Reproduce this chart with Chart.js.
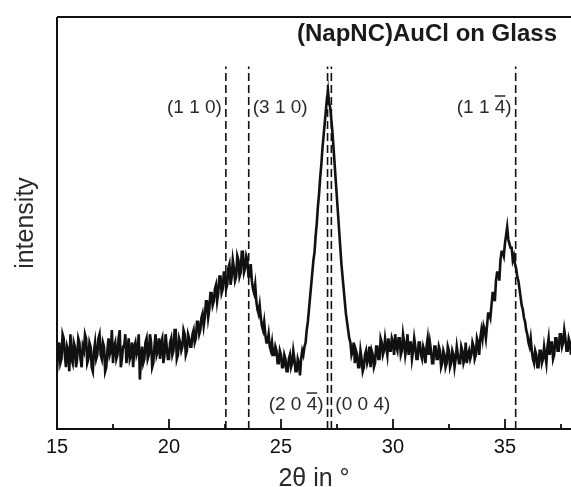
<!DOCTYPE html>
<html>
<head>
<meta charset="utf-8">
<script src="https://cdn.jsdelivr.net/npm/chart.js@4.4.1/dist/chart.umd.min.js"></script>
<style>
html, body { margin: 0; padding: 0; background: #fff; }
#wrap { width: 571px; height: 487px; position: relative; }
</style>
</head>
<body>
<div id="wrap"><canvas id="xrdCanvas"></canvas></div>
<script>
// scan grid: 15.00 .. 37.95 in steps of 0.05 degree (one row = one degree)
const twoThetaStart = 15.0;
const twoThetaStep = 0.05;
const intensity = [
    14, 19, 21, 16, 17, 23, 22, 18, 15, 20, 19, 14, 23, 17, 16, 21, 20, 15, 17, 22,
    21, 17, 15, 20, 19, 23, 22, 16, 17, 21, 20, 15, 14, 19, 21, 17, 18, 22, 23, 18,
    17, 21, 20, 14, 15, 19, 22, 18, 19, 24, 16, 20, 21, 17, 18, 22, 24, 15, 17, 20,
    20, 23, 16, 19, 22, 17, 18, 21, 15, 20, 21, 18, 19, 23, 12, 17, 20, 16, 17, 21,
    22, 17, 18, 23, 21, 15, 16, 20, 23, 18, 19, 22, 17, 21, 22, 16, 18, 23, 20, 17,
    17, 21, 22, 18, 19, 24, 24, 17, 18, 22, 21, 19, 20, 24, 23, 18, 19, 23, 22, 20,
    20, 23, 24, 21, 22, 26, 26, 23, 24, 27, 28, 25, 27, 31, 31, 27, 29, 33, 33, 30,
    31, 34, 35, 31, 33, 37, 37, 33, 34, 38, 38, 34, 35, 39, 40, 35, 37, 41, 39, 36,
    37, 42, 41, 37, 38, 43, 43, 38, 39, 42, 41, 37, 37, 40, 36, 34, 33, 35, 31, 29,
    28, 30, 27, 25, 24, 26, 23, 21, 21, 23, 20, 19, 21, 18, 18, 20, 19, 16, 16, 19,
    18, 15, 15, 18, 17, 14, 14, 17, 18, 15, 16, 19, 17, 14, 14, 17, 16, 13, 17, 19,
    18, 20, 21, 24, 26, 29, 32, 35, 38, 41, 43, 47, 50, 54, 57, 61, 64, 68, 71, 74,
    77, 80, 82, 79, 78, 75, 72, 68, 64, 60, 56, 52, 48, 44, 40, 37, 34, 31, 28, 26,
    24, 22, 21, 18, 19, 21, 16, 19, 18, 15, 15, 19, 17, 14, 15, 18, 19, 16, 17, 20,
    15, 19, 18, 15, 16, 20, 20, 17, 17, 22, 21, 18, 19, 22, 20, 18, 22, 19, 19, 22,
    21, 18, 23, 20, 19, 22, 22, 18, 19, 23, 21, 18, 20, 23, 18, 21, 21, 17, 19, 22,
    20, 17, 17, 21, 21, 18, 17, 20, 19, 16, 20, 22, 18, 21, 19, 16, 16, 20, 20, 17,
    17, 20, 19, 15, 16, 19, 18, 15, 16, 20, 19, 15, 16, 19, 18, 15, 17, 20, 18, 16,
    16, 20, 19, 16, 17, 21, 16, 18, 19, 17, 18, 21, 20, 17, 18, 22, 21, 18, 22, 24,
    22, 25, 24, 22, 25, 28, 28, 27, 30, 33, 33, 31, 36, 38, 38, 36, 41, 43, 43, 42,
    45, 47, 49, 46, 45, 44, 44, 41, 42, 40, 39, 37, 36, 34, 32, 30, 29, 27, 26, 24,
    23, 21, 20, 22, 19, 17, 16, 19, 18, 15, 15, 19, 19, 16, 17, 20, 18, 16, 20, 22,
    18, 21, 21, 17, 18, 22, 22, 19, 19, 23, 23, 20, 21, 24, 22, 19, 19, 22, 21, 18
];

// reflection positions (dashed lines) and their labels
const peakPositions = [22.54, 23.56, 27.08, 27.25, 35.48];
const peakLineTop = 88;
const peakLabels = ['(1 1 0)', '(3 1 0)', '(2 0 4)', '(0 0 4)', '(1 1 4)'];
const peakLabelSide = ['left', 'right', 'left', 'right', 'left'];
const peakLabelY = [76.7, 76.7, 4.6, 4.6, 76.7];
const peakLabelBar = [false, false, true, false, true];

const majorTicks = [15, 20, 25, 30, 35];
const minorTicks = [17.5, 22.5, 27.5, 32.5, 37.5];
const xMin = 15;
const xMax = 37.95;

const fontFamily = "'Liberation Sans', Arial, sans-serif";
const inkColor = '#111111';
const labelColor = '#2a2a2a';

const canvas = document.getElementById('xrdCanvas');
const context = canvas.getContext('2d');

const scanPoints = intensity.map(function(v, i) {
    return { x: twoThetaStart + i * twoThetaStep, y: v };
});

const datasets = [{
    label: 'XRD',
    data: scanPoints,
    borderColor: inkColor,
    borderWidth: 2.6,
    pointRadius: 0,
    tension: 0,
    fill: false
}];

peakPositions.forEach(function(p) {
    datasets.push({
        label: 'ref ' + p,
        data: [{ x: p, y: 0 }, { x: p, y: peakLineTop }],
        borderColor: inkColor,
        borderWidth: 1.6,
        borderDash: [8, 4],
        pointRadius: 0,
        fill: false
    });
});

const decorPlugin = {
    id: 'xrdDecor',
    afterDraw: function(chart) {
        const ctx = chart.ctx;
        const area = chart.chartArea;
        const xs = chart.scales.x;
        const ys = chart.scales.y;
        ctx.save();

        // frame: top, left, bottom
        ctx.strokeStyle = inkColor;
        ctx.lineWidth = 2;
        ctx.beginPath();
        ctx.moveTo(area.left, area.top);
        ctx.lineTo(area.right, area.top);
        ctx.moveTo(area.left, area.top);
        ctx.lineTo(area.left, area.bottom);
        ctx.moveTo(area.left - 1, area.bottom);
        ctx.lineTo(area.right, area.bottom);
        ctx.stroke();

        // inward ticks
        ctx.lineWidth = 1.8;
        ctx.beginPath();
        majorTicks.forEach(function(t) {
            const px = Math.round(xs.getPixelForValue(t));
            ctx.moveTo(px, area.bottom);
            ctx.lineTo(px, area.bottom - 10);
        });
        minorTicks.forEach(function(t) {
            const px = Math.round(xs.getPixelForValue(t));
            ctx.moveTo(px, area.bottom);
            ctx.lineTo(px, area.bottom - 5);
        });
        ctx.stroke();

        // tick labels
        ctx.fillStyle = inkColor;
        ctx.font = '20px ' + fontFamily;
        ctx.textAlign = 'center';
        ctx.textBaseline = 'alphabetic';
        majorTicks.forEach(function(t) {
            ctx.fillText(String(t), xs.getPixelForValue(t), area.bottom + 24);
        });

        // peak labels
        ctx.font = '19px ' + fontFamily;
        ctx.fillStyle = labelColor;
        ctx.strokeStyle = labelColor;
        peakLabels.forEach(function(text, i) {
            const lx = xs.getPixelForValue(peakPositions[i]);
            const ly = ys.getPixelForValue(peakLabelY[i]);
            const w = ctx.measureText(text).width;
            const startX = peakLabelSide[i] === 'left' ? lx - 4 - w : lx + 4;
            ctx.textAlign = 'left';
            ctx.fillText(text, startX, ly);
            if (peakLabelBar[i]) {
                const before = ctx.measureText(text.slice(0, text.length - 2)).width;
                const digitW = ctx.measureText('4').width;
                ctx.lineWidth = 1.5;
                ctx.beginPath();
                ctx.moveTo(startX + before, ly - 17);
                ctx.lineTo(startX + before + digitW, ly - 17);
                ctx.stroke();
            }
        });

        // title
        ctx.fillStyle = '#1a1a1a';
        ctx.font = 'bold 24px ' + fontFamily;
        ctx.textAlign = 'right';
        ctx.fillText('(NapNC)AuCl on Glass', 557, 41);

        // axis titles
        ctx.fillStyle = labelColor;
        ctx.font = '25px ' + fontFamily;
        ctx.textAlign = 'center';
        ctx.fillText('2θ in °', (area.left + area.right) / 2, 486);

        ctx.translate(26, (area.top + area.bottom) / 2);
        ctx.rotate(-Math.PI / 2);
        ctx.textBaseline = 'middle';
        ctx.fillText('intensity', 0, 0);

        ctx.restore();
    }
};

new Chart(context, {
    type: 'line',
    data: { datasets: datasets },
    options: {
        responsive: true,
        maintainAspectRatio: false,
        animation: false,
        devicePixelRatio: 1,
        layout: {
            padding: { left: 57, right: 0, top: 17, bottom: 58 }
        },
        plugins: {
            legend: { display: false },
            tooltip: { enabled: false }
        },
        scales: {
            x: {
                type: 'linear',
                min: xMin,
                max: xMax,
                grid: { display: false, drawTicks: false },
                border: { display: false },
                ticks: { display: false }
            },
            y: {
                display: false,
                min: 0,
                max: 100
            }
        }
    },
    plugins: [decorPlugin]
});
</script>
</body>
</html>
